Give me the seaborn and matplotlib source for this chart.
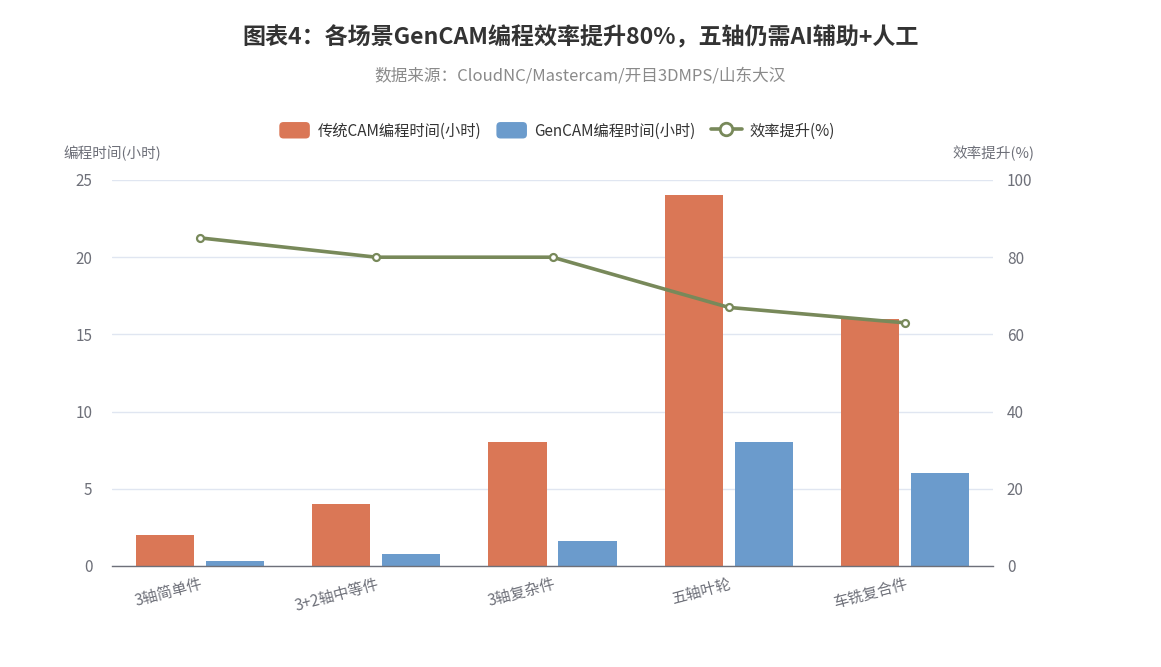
import matplotlib
matplotlib.use("Agg")
import matplotlib.pyplot as plt
import seaborn as sns
import pandas as pd
import numpy as np
from matplotlib.patches import FancyBboxPatch
from matplotlib.lines import Line2D
from matplotlib.legend_handler import HandlerPatch

categories = ["3轴简单件", "3+2轴中等件", "3轴复杂件", "五轴叶轮", "车铣复合件"]
traditional_hours = [2, 4, 8, 24, 16]
gencam_hours = [0.3, 0.8, 1.6, 8, 6]
efficiency_gain = [85, 80, 80, 67, 63]
series_names = ["传统CAM编程时间(小时)", "GenCAM编程时间(小时)"]
line_name = "效率提升(%)"

sns.set_theme(style="white")
plt.rcParams['font.family'] = ['Noto Sans CJK SC', 'DejaVu Sans']
plt.rcParams['axes.unicode_minus'] = False

C_OR = "#da7756"
C_BL = "#6b9bcc"
C_GR = "#78895a"
C_TXT = "#6e7079"
C_GRID = "#e0e6f1"

df = pd.DataFrame({
    "cat": categories * 2,
    "hours": traditional_hours + gencam_hours,
    "series": [series_names[0]] * 5 + [series_names[1]] * 5,
})

fig = plt.figure(figsize=(11.61, 6.67), dpi=100)
ax = fig.add_axes([112/1161, 1-566/667, (993-112)/1161, (566-180)/667])
sns.barplot(data=df, x="cat", y="hours", hue="series", palette=[C_OR, C_BL],
            width=0.795, gap=0.171, saturation=1, ax=ax, legend=False,
            errorbar=None, order=categories, hue_order=series_names)
for p in ax.patches:
    p.set_edgecolor("none")

ax.set_xlim(-0.5, 4.5)
ax.set_ylim(0, 25)
ax.set_yticks([0, 5, 10, 15, 20, 25])
ax.yaxis.grid(True, color=C_GRID, lw=1)
ax.set_axisbelow(True)
for s in ["top", "right", "left"]:
    ax.spines[s].set_visible(False)
ax.spines["bottom"].set_color(C_TXT)
ax.spines["bottom"].set_linewidth(1)
ax.set_xticks(np.arange(-0.5, 5.0, 1.0))
ax.set_xticklabels([])
ax.tick_params(axis="x", which="major", length=5, color=C_TXT, width=1, direction="out")
ax.set_xticks(np.arange(5), minor=True)
ax.set_xticklabels(categories, minor=True, rotation=15, ha="right", va="top",
                   rotation_mode="anchor", color=C_TXT, fontsize=11)
ax.tick_params(axis="x", which="minor", length=0, pad=7)
ax.tick_params(axis="y", length=0, labelcolor=C_TXT, labelsize=11, pad=14)
ax.set_xlabel("")
ax.set_ylabel("")

ax2 = ax.twinx()
sns.lineplot(x=np.arange(len(categories)), y=efficiency_gain, ax=ax2, color=C_GR, lw=2.6,
             marker="o", markersize=5, markerfacecolor="white", markeredgecolor=C_GR,
             markeredgewidth=1.6, legend=False)
ax2.set_ylim(0, 100)
ax2.set_yticks([0, 20, 40, 60, 80, 100])
for s in ["top", "right", "left", "bottom"]:
    ax2.spines[s].set_visible(False)
ax2.tick_params(axis="y", length=0, labelcolor=C_TXT, labelsize=11, pad=10)
ax2.set_xlim(-0.5, 4.5)
ax2.set_ylabel("")
ax2.grid(False)

fig.text(112/1161, 1-153/667, "编程时间(小时)", ha="center", va="center", color=C_TXT, fontsize=10.5)
fig.text(993/1161, 1-153/667, "效率提升(%)", ha="center", va="center", color=C_TXT, fontsize=10.5)

fig.text(0.5, 1-38/667, "图表4：各场景GenCAM编程效率提升80%，五轴仍需AI辅助+人工",
         ha="center", va="center", fontsize=16.6, fontweight="bold", color="#333333")
fig.text(0.5, 1-76/667, "数据来源：CloudNC/Mastercam/开目3DMPS/山东大汉",
         ha="center", va="center", fontsize=12, color="#8a8a8a")

class RoundRectHandler(HandlerPatch):
    def create_artists(self, legend, orig_handle, xdescent, ydescent, width, height, fontsize, trans):
        p = FancyBboxPatch((-xdescent, -ydescent - 1), width, height + 2,
                           boxstyle="round,pad=0,rounding_size=3",
                           facecolor=orig_handle.get_facecolor(), edgecolor="none", transform=trans)
        return [p]

h1 = FancyBboxPatch((0, 0), 1, 1, facecolor=C_OR)
h2 = FancyBboxPatch((0, 0), 1, 1, facecolor=C_BL)
h3 = Line2D([], [], color=C_GR, lw=2.6, marker="o", markersize=9,
            markerfacecolor="white", markeredgecolor=C_GR, markeredgewidth=2)
leg = fig.legend([h1, h2, h3], series_names + [line_name], loc="center",
                 bbox_to_anchor=(557/1161, 1-131/667), ncol=3, frameon=False,
                 fontsize=11, handlelength=2.0, handleheight=1.0, columnspacing=1.0,
                 handletextpad=0.5, labelcolor="#333333",
                 handler_map={FancyBboxPatch: RoundRectHandler()})

fig.savefig("out.png", dpi=100)
